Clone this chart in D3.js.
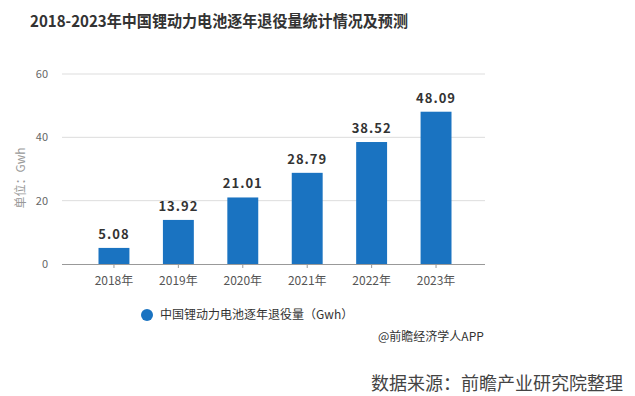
<!DOCTYPE html>
<html>
<head>
<meta charset="utf-8">
<script src="https://cdn.jsdelivr.net/npm/d3@7"></script>
<style>
  body { margin: 0; background: #fff; }
  svg { display: block; font-family: "Microsoft YaHei", "Noto Sans CJK SC", sans-serif; }
</style>
</head>
<body>
<script>
const years = ['2018年', '2019年', '2020年', '2021年', '2022年', '2023年']
const values = [5.08, 13.92, 21.01, 28.79, 38.52, 48.09]
const yTicks = [0, 20, 40, 60]

const svg = d3.select('body')
              .append('svg')
              .attr('width', 635)
              .attr('height', 396)

svg.append('text')
   .attr('x', 30)
   .attr('y', 27)
   .attr('font-size', 16)
   .attr('font-weight', 'bold')
   .attr('fill', '#333')
   .attr('textLength', 378)
   .attr('lengthAdjust', 'spacingAndGlyphs')
   .text('2018-2023年中国锂动力电池逐年退役量统计情况及预测')

const x = d3.scaleBand().domain(years).range([65, 485]).padding(0.52)
const y = d3.scaleLinear().domain([0, 60]).range([264, 74])

// gridlines
svg.append('g')
   .selectAll('line')
   .data(yTicks.slice(1))
   .join('line')
    .attr('x1', 62)
    .attr('x2', 485)
    .attr('y1', d => y(d))
    .attr('y2', d => y(d))
    .attr('stroke', '#ddd')

svg.append('g')
   .selectAll('text')
   .data(yTicks)
   .join('text')
    .attr('x', 48)
    .attr('y', d => y(d) + 4)
    .attr('text-anchor', 'end')
    .attr('font-size', 11)
    .attr('fill', '#666')
    .text(d => d)

svg.append('text')
   .attr('transform', 'translate(25,178) rotate(-90)')
   .attr('text-anchor', 'middle')
   .attr('font-size', 12)
   .attr('fill', '#999')
   .text('单位：Gwh')

svg.append('g')
   .selectAll('rect')
   .data(values)
   .join('rect')
    .attr('x', (d, i) => x(years[i]))
    .attr('y', d => y(d))
    .attr('width', x.bandwidth())
    .attr('height', d => y(0) - y(d))
    .attr('fill', '#1a73c1')

svg.append('g')
   .selectAll('text')
   .data(values)
   .join('text')
    .attr('x', (d, i) => x(years[i]) + x.bandwidth() / 2)
    .attr('y', d => y(d) - 9)
    .attr('text-anchor', 'middle')
    .attr('font-size', 13)
    .attr('font-weight', 'bold')
    .attr('letter-spacing', 1)
    .attr('fill', '#333')
    .text(d => d.toFixed(2))

// x axis
const xAxis = svg.append('g')
   .attr('transform', 'translate(0,264)')
   .call(d3.axisBottom(x).tickSize(4).tickSizeOuter(0))
xAxis.select('.domain').attr('stroke', '#999').attr('d', 'M62,0.5H485')
xAxis.selectAll('.tick line').attr('stroke', '#999')
xAxis.selectAll('.tick text')
     .attr('font-size', 12)
     .attr('fill', '#555')
     .attr('dy', '1.15em')
     .attr('font-family', '"Noto Sans CJK SC", sans-serif')

// legend
svg.append('circle')
   .attr('cx', 147)
   .attr('cy', 315)
   .attr('r', 6)
   .attr('fill', '#1a73c1')

svg.append('text')
   .attr('x', 160)
   .attr('y', 319)
   .attr('font-size', 12)
   .attr('fill', '#333')
   .text('中国锂动力电池逐年退役量（Gwh）')

svg.append('text')
   .attr('x', 378)
   .attr('y', 341)
   .attr('font-size', 12)
   .attr('fill', '#333')
   .text('@前瞻经济学人APP')

svg.append('text')
   .attr('x', 371)
   .attr('y', 390)
   .attr('font-size', 18)
   .attr('fill', '#444')
   .text('数据来源：前瞻产业研究院整理')
</script>
</body>
</html>
